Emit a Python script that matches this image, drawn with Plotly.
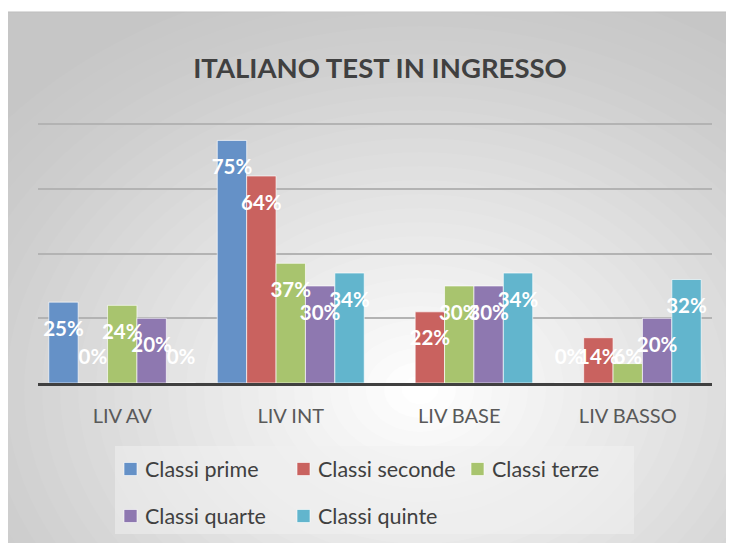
import plotly.graph_objects as go

categories = ["LIV AV", "LIV INT", "LIV BASE", "LIV BASSO"]
series_names = ["Classi prime", "Classi seconde", "Classi terze", "Classi quarte", "Classi quinte"]
classi_prime = [25, 75, None, 0]
classi_seconde = [0, 64, 22, 14]
classi_terze = [24, 37, 30, 6]
classi_quarte = [20, 30, 30, 20]
classi_quinte = [0, 34, 34, 32]
series_values = [classi_prime, classi_seconde, classi_terze, classi_quarte, classi_quinte]
colors = ["#6591c7", "#c9625f", "#a8c46e", "#8e78b0", "#62b5cd"]

W, H = 734, 543
OFF = 8  # page body margin offset
# plot area in reference pixels: x 38..712, y ~121..383 (80% gridline at y=124)
YMAX = 81.0
PX_PER_UNIT = (383 - 124) / 80.0
PH = round(YMAX * PX_PER_UNIT)
ML = 38 - OFF
MT = 383 - PH - OFF
PW = 712 - 38
MR = W - ML - PW
MB = H - MT - PH


def px_x(px):
    return (px - OFF - ML) / PW


def px_y(py):
    return (MT + PH - (py - OFF)) / PH


fig = go.Figure()

for name, vals, col in zip(series_names, series_values, colors):
    fig.add_trace(go.Bar(
        x=categories, y=vals, name=name, showlegend=False,
        marker=dict(color=col, line=dict(color="rgba(255,255,255,0.65)", width=1)),
        hoverinfo="skip",
    ))

# data labels (white, bold) grouped like the bars
for name, vals in zip(series_names, series_values):
    ys = [None if v is None else max(v - 8.8, 7.4) for v in vals]
    txt = ["" if v is None else f"{v}%" for v in vals]
    fig.add_trace(go.Scatter(
        x=categories, y=ys, mode="text", text=txt, showlegend=False,
        textfont=dict(family="Lato", size=20.5, color="white", weight="bold"),
        cliponaxis=False, hoverinfo="skip",
    ))

shapes = []
# chart area background with radial gradient
shapes.append(dict(type="rect", xref="paper", yref="paper", layer="below",
                   x0=px_x(7), x1=px_x(780), y0=px_y(12), y1=px_y(600),
                   fillcolor="#c6c6c6", line=dict(color="#bdbdbd", width=1)))
N = 30
cx, cy, RX, RY = 420, 390, 540, 420
for j in range(1, N + 1):
    f = 1 - (j - 1) / N
    a = 1.0 / (N - j + 1)
    shapes.append(dict(type="circle", xref="paper", yref="paper", layer="below",
                       x0=px_x(cx - RX * f), x1=px_x(cx + RX * f),
                       y0=px_y(cy + RY * f), y1=px_y(cy - RY * f),
                       fillcolor="white", opacity=a, line=dict(width=0)))
# legend box
shapes.append(dict(type="rect", xref="paper", yref="paper", layer="below",
                   x0=px_x(115), x1=px_x(634), y0=px_y(534), y1=px_y(446),
                   fillcolor="rgba(240,240,240,0.55)", line=dict(width=0)))

annotations = []
legend_pos = [(124, 469), (297, 469), (471, 469), (124, 516), (297, 516)]
for (lx, ly), name, col in zip(legend_pos, series_names, colors):
    shapes.append(dict(type="rect", xref="paper", yref="paper",
                       x0=px_x(lx), x1=px_x(lx + 13), y0=px_y(ly + 6.5), y1=px_y(ly - 6.5),
                       fillcolor=col, line=dict(color="rgba(255,255,255,0.6)", width=1)))
    annotations.append(dict(xref="paper", yref="paper", x=px_x(lx + 19), y=px_y(ly),
                            xanchor="left", yanchor="middle", showarrow=False, text=name,
                            font=dict(family="Lato", size=21.5, color="#404040")))

fig.update_layout(
    width=W, height=H,
    margin=dict(l=ML, r=MR, t=MT, b=MB, pad=0),
    paper_bgcolor="white", plot_bgcolor="rgba(0,0,0,0)",
    barmode="group", bargap=0.128, bargroupgap=0,
    scattermode="group", scattergap=0.128,
    title=dict(text="<b>ITALIANO TEST IN INGRESSO</b>", x=(380 - OFF) / W, y=1 - (68 - OFF) / H,
               xanchor="center", yanchor="middle",
               font=dict(family="Lato", size=27.5, color="#404040")),
    shapes=shapes, annotations=annotations,
    showlegend=False,
    font=dict(family="Lato"),
)
fig.update_xaxes(showline=True, linecolor="#404040", linewidth=3, showgrid=False,
                 ticks="outside", ticklen=13, tickcolor="rgba(0,0,0,0)",
                 tickfont=dict(family="Lato", size=20, color="#595959"))
fig.update_yaxes(range=[0, YMAX], dtick=20, showgrid=True, gridcolor="#b3b3b3", gridwidth=1.5,
                 showticklabels=False, zeroline=False, showline=False)

fig.write_html("out.html")
